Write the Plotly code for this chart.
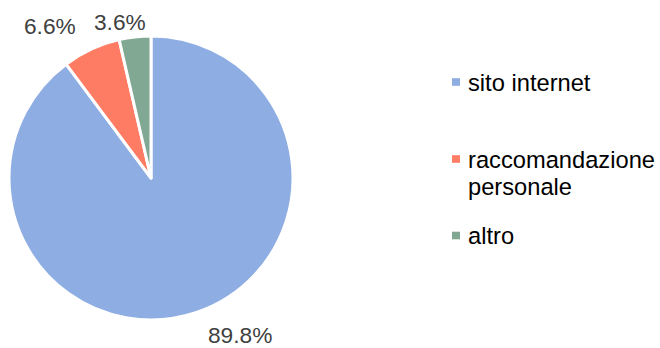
import plotly.graph_objects as go

# Channel through which respondents found the service
labels = ["sito internet", "raccomandazione personale", "altro"]
values = [89.8, 6.6, 3.6]
colors = ["#8EADE3", "#FF7C64", "#80A892"]

W, H = 660, 348
FONT = "Liberation Sans, Arial, sans-serif"

fig = go.Figure(
    go.Pie(
        labels=labels,
        values=values,
        sort=False,
        direction="clockwise",
        rotation=0,
        marker=dict(colors=colors, line=dict(color="white", width=3)),
        textinfo="none",
        hoverinfo="label+percent",
        showlegend=False,
        domain=dict(x=[9 / W, 293 / W], y=[28 / H, 312 / H]),
    )
)

# Percentage labels placed outside the slices
total = sum(values)
pct_pos = [(240, 335), (50, 26), (120, 22)]
for v, (px, py) in zip(values, pct_pos):
    fig.add_annotation(
        x=px / W, y=1 - py / H, xref="paper", yref="paper",
        text=f"{v / total * 100:.1f}%", showarrow=False,
        xanchor="center", yanchor="middle", borderpad=0,
        font=dict(family=FONT, size=22.7, color="#404040"),
    )

# Legend: square swatches with their labels (long label wrapped on two lines)
swatch_y = [82, 159, 235.5]
legend_lines = [["sito internet"], ["raccomandazione", "personale"], ["altro"]]
line_y = [[83.5], [160, 186.7], [236]]
for col, sy, lines, ys in zip(colors, swatch_y, legend_lines, line_y):
    fig.add_shape(
        type="rect", xref="paper", yref="paper",
        x0=452 / W, x1=460 / W, y0=1 - (sy + 3.8) / H, y1=1 - (sy - 3.8) / H,
        fillcolor=col, line=dict(width=0),
    )
    for txt, ty in zip(lines, ys):
        fig.add_annotation(
            x=466 / W, y=1 - ty / H, xref="paper", yref="paper",
            text=txt, showarrow=False, xanchor="left", yanchor="middle", align="left",
            font=dict(family=FONT, size=23.7, color="#000000"),
        )

fig.update_layout(
    width=W, height=H,
    margin=dict(l=0, r=0, t=0, b=0),
    paper_bgcolor="white",
    plot_bgcolor="white",
)

fig.write_html("out.html")
